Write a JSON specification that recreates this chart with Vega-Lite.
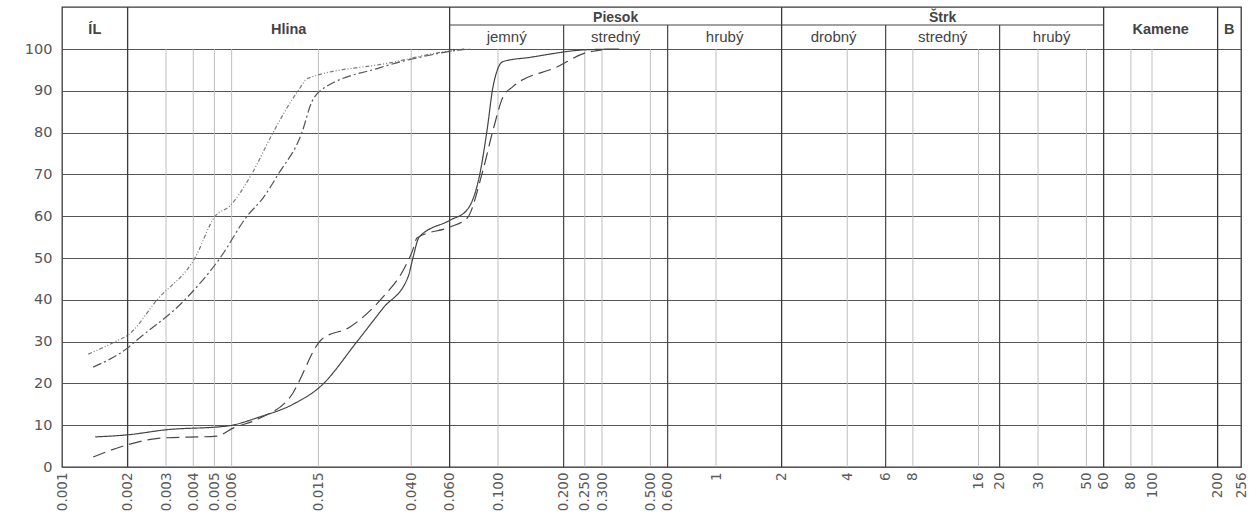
{
  "$schema": "https://vega.github.io/schema/vega-lite/v6.json",
  "width": 1179,
  "height": 460,
  "autosize": {"type": "none"},
  "padding": {"left": 62, "top": 7, "right": 16, "bottom": 50},
  "background": "white",
  "config": {"view": {"stroke": "#3a3a3a", "strokeWidth": 1.3}, "font": "Liberation Sans"},
  "datasets": {
    "curves": [
      {"s": "A", "d": 0.00132, "p": 27.0}, {"s": "A", "d": 0.00179, "p": 30.2}, {"s": "A", "d": 0.002, "p": 31.5},
      {"s": "A", "d": 0.00273, "p": 40}, {"s": "A", "d": 0.00407, "p": 50}, {"s": "A", "d": 0.00504, "p": 60},
      {"s": "A", "d": 0.0059, "p": 62.5}, {"s": "A", "d": 0.0074, "p": 70}, {"s": "A", "d": 0.00929, "p": 80},
      {"s": "A", "d": 0.0121, "p": 90}, {"s": "A", "d": 0.01343, "p": 93}, {"s": "A", "d": 0.032, "p": 96.7},
      {"s": "A", "d": 0.056, "p": 99.3}, {"s": "A", "d": 0.075, "p": 100},
      {"s": "B", "d": 0.00139, "p": 23.9}, {"s": "B", "d": 0.002, "p": 28.5}, {"s": "B", "d": 0.00221, "p": 30.4},
      {"s": "B", "d": 0.00366, "p": 40}, {"s": "B", "d": 0.00531, "p": 50}, {"s": "B", "d": 0.00706, "p": 60},
      {"s": "B", "d": 0.0084, "p": 64.5}, {"s": "B", "d": 0.0098, "p": 70}, {"s": "B", "d": 0.0126, "p": 80},
      {"s": "B", "d": 0.014, "p": 87.4}, {"s": "B", "d": 0.0153, "p": 90}, {"s": "B", "d": 0.0286, "p": 95.5},
      {"s": "B", "d": 0.0541, "p": 99}, {"s": "B", "d": 0.07, "p": 100},
      {"s": "C", "d": 0.00142, "p": 7.2}, {"s": "C", "d": 0.002, "p": 7.7}, {"s": "C", "d": 0.003, "p": 8.9},
      {"s": "C", "d": 0.00571, "p": 9.8}, {"s": "C", "d": 0.0081, "p": 12}, {"s": "C", "d": 0.01147, "p": 15},
      {"s": "C", "d": 0.0155, "p": 19.5}, {"s": "C", "d": 0.02255, "p": 30}, {"s": "C", "d": 0.0297, "p": 38},
      {"s": "C", "d": 0.0387, "p": 45.5}, {"s": "C", "d": 0.0407, "p": 50}, {"s": "C", "d": 0.0435, "p": 55},
      {"s": "C", "d": 0.06, "p": 59}, {"s": "C", "d": 0.0721, "p": 61.5}, {"s": "C", "d": 0.0827, "p": 70.3},
      {"s": "C", "d": 0.0891, "p": 80.6}, {"s": "C", "d": 0.0949, "p": 91}, {"s": "C", "d": 0.1054, "p": 97},
      {"s": "C", "d": 0.14, "p": 98}, {"s": "C", "d": 0.25, "p": 99.8}, {"s": "C", "d": 0.36, "p": 100},
      {"s": "D", "d": 0.00139, "p": 2.4}, {"s": "D", "d": 0.00199, "p": 5.3}, {"s": "D", "d": 0.00282, "p": 6.9},
      {"s": "D", "d": 0.00514, "p": 7.4}, {"s": "D", "d": 0.00609, "p": 9.3}, {"s": "D", "d": 0.0081, "p": 11.7},
      {"s": "D", "d": 0.01147, "p": 17.7}, {"s": "D", "d": 0.01197, "p": 19.5}, {"s": "D", "d": 0.0155, "p": 30.5},
      {"s": "D", "d": 0.02095, "p": 33.5}, {"s": "D", "d": 0.0297, "p": 40.7}, {"s": "D", "d": 0.0367, "p": 47},
      {"s": "D", "d": 0.0407, "p": 52}, {"s": "D", "d": 0.0425, "p": 54.8}, {"s": "D", "d": 0.06, "p": 57.4},
      {"s": "D", "d": 0.0721, "p": 59.5}, {"s": "D", "d": 0.0853, "p": 71}, {"s": "D", "d": 0.0949, "p": 80.6},
      {"s": "D", "d": 0.1054, "p": 88.5}, {"s": "D", "d": 0.117, "p": 91}, {"s": "D", "d": 0.1865, "p": 95.7},
      {"s": "D", "d": 0.25, "p": 99}, {"s": "D", "d": 0.3, "p": 99.8}
    ],
    "vlines": [
      {"d": 0.002, "kind": "class"}, {"d": 0.003, "kind": "minor"}, {"d": 0.004, "kind": "minor"},
      {"d": 0.005, "kind": "minor"}, {"d": 0.006, "kind": "minor"}, {"d": 0.015, "kind": "minor"},
      {"d": 0.04, "kind": "minor"}, {"d": 0.06, "kind": "class"}, {"d": 0.1, "kind": "minor"},
      {"d": 0.2, "kind": "sub"}, {"d": 0.25, "kind": "minor"}, {"d": 0.3, "kind": "minor"},
      {"d": 0.5, "kind": "minor"}, {"d": 0.6, "kind": "sub"}, {"d": 1, "kind": "minor"},
      {"d": 2, "kind": "class"}, {"d": 4, "kind": "minor"}, {"d": 6, "kind": "sub"},
      {"d": 8, "kind": "minor"}, {"d": 16, "kind": "minor"}, {"d": 20, "kind": "sub"},
      {"d": 30, "kind": "minor"}, {"d": 50, "kind": "minor"}, {"d": 60, "kind": "class"},
      {"d": 80, "kind": "minor"}, {"d": 100, "kind": "minor"}, {"d": 200, "kind": "class"}
    ],
    "classes": [
      {"name": "ÍL", "from": 0.001, "to": 0.002, "level": "full"},
      {"name": "Hlina", "from": 0.002, "to": 0.06, "level": "full"},
      {"name": "Piesok", "from": 0.06, "to": 2, "level": "upper"},
      {"name": "jemný", "from": 0.06, "to": 0.2, "level": "lower"},
      {"name": "stredný", "from": 0.2, "to": 0.6, "level": "lower"},
      {"name": "hrubý", "from": 0.6, "to": 2, "level": "lower"},
      {"name": "Štrk", "from": 2, "to": 60, "level": "upper"},
      {"name": "drobný", "from": 2, "to": 6, "level": "lower"},
      {"name": "stredný", "from": 6, "to": 20, "level": "lower"},
      {"name": "hrubý", "from": 20, "to": 60, "level": "lower"},
      {"name": "Kamene", "from": 60, "to": 200, "level": "full"},
      {"name": "B", "from": 200, "to": 256, "level": "full"}
    ]
  },
  "layer": [
    {
      "data": {"name": "vlines"},
      "transform": [{"filter": "datum.kind === 'minor'"}],
      "mark": {"type": "rule", "color": "#b8b8b8", "strokeWidth": 0.9},
      "encoding": {
        "x": {
          "field": "d", "type": "quantitative", "title": null,
          "scale": {"type": "log", "domain": [0.001, 256], "nice": false},
          "axis": {
            "title": null,
            "values": [0.001, 0.002, 0.003, 0.004, 0.005, 0.006, 0.015, 0.04, 0.06, 0.1, 0.2, 0.25, 0.3, 0.5, 0.6, 1, 2, 4, 6, 8, 16, 20, 30, 50, 60, 80, 100, 200, 256],
            "labelExpr": "datum.value < 1 ? format(datum.value, '.3f') : format(datum.value, 'd')",
            "labelAngle": -90,
            "labelAlign": "right",
            "labelBaseline": "middle",
            "labelOverlap": false,
            "labelFlush": false,
            "labelBound": false,
            "labelPadding": 5,
            "labelFontSize": 13.5,
            "labelColor": "#5a5a5a",
            "labelFont": "DejaVu Sans",
            "ticks": false,
            "domain": false,
            "grid": false
          }
        },
        "y": {
          "datum": 0, "type": "quantitative", "title": null,
          "scale": {"domain": [0, 110.05], "nice": false, "zero": false},
          "axis": {
            "title": null,
            "values": [0, 10, 20, 30, 40, 50, 60, 70, 80, 90, 100],
            "grid": true,
            "gridColor": "#555555",
            "gridWidth": 1,
            "gridOpacity": 1,
            "ticks": false,
            "domain": false,
            "labelPadding": 10,
            "labelFontSize": 14.5,
            "labelColor": "#555555",
            "labelFont": "DejaVu Sans",
            "labelOverlap": false
          }
        },
        "y2": {"datum": 100}
      }
    },
    {
      "data": {"name": "vlines"},
      "transform": [{"filter": "datum.kind === 'sub'"}],
      "mark": {"type": "rule", "color": "#444444", "strokeWidth": 1.2},
      "encoding": {
        "x": {"field": "d", "type": "quantitative", "title": null},
        "y": {"datum": 0, "type": "quantitative", "title": null},
        "y2": {"datum": 105.74}
      }
    },
    {
      "data": {"name": "vlines"},
      "transform": [{"filter": "datum.kind === 'class'"}],
      "mark": {"type": "rule", "color": "#3a3a3a", "strokeWidth": 1.3},
      "encoding": {
        "x": {"field": "d", "type": "quantitative", "title": null},
        "y": {"datum": 0, "type": "quantitative", "title": null},
        "y2": {"datum": 110.05}
      }
    },
    {
      "data": {"values": [{"from": 0.06, "to": 60}]},
      "mark": {"type": "rule", "color": "#444444", "strokeWidth": 1.2},
      "encoding": {
        "x": {"field": "from", "type": "quantitative", "title": null},
        "x2": {"field": "to"},
        "y": {"datum": 105.74, "type": "quantitative", "title": null}
      }
    },
    {
      "data": {"name": "classes"},
      "transform": [
        {"filter": "datum.level === 'full'"},
        {"calculate": "sqrt(datum.from * datum.to)", "as": "mid"}
      ],
      "mark": {"type": "text", "fontSize": 14.5, "fontWeight": "bold", "color": "#444444", "align": "center", "baseline": "middle"},
      "encoding": {
        "x": {"field": "mid", "type": "quantitative", "title": null},
        "y": {"datum": 104.6, "type": "quantitative", "title": null},
        "text": {"field": "name"}
      }
    },
    {
      "data": {"name": "classes"},
      "transform": [
        {"filter": "datum.level === 'upper'"},
        {"calculate": "sqrt(datum.from * datum.to)", "as": "mid"}
      ],
      "mark": {"type": "text", "fontSize": 14, "fontWeight": "bold", "color": "#444444", "align": "center", "baseline": "middle"},
      "encoding": {
        "x": {"field": "mid", "type": "quantitative", "title": null},
        "y": {"datum": 107.5, "type": "quantitative", "title": null},
        "text": {"field": "name"}
      }
    },
    {
      "data": {"name": "classes"},
      "transform": [
        {"filter": "datum.level === 'lower'"},
        {"calculate": "sqrt(datum.from * datum.to)", "as": "mid"}
      ],
      "mark": {"type": "text", "fontSize": 15, "color": "#444444", "align": "center", "baseline": "middle"},
      "encoding": {
        "x": {"field": "mid", "type": "quantitative", "title": null},
        "y": {"datum": 102.8, "type": "quantitative", "title": null},
        "text": {"field": "name"}
      }
    },
    {
      "data": {"name": "curves"},
      "mark": {"type": "line", "interpolate": "monotone", "strokeWidth": 1.2},
      "encoding": {
        "x": {"field": "d", "type": "quantitative", "title": null},
        "y": {"field": "p", "type": "quantitative", "title": null},
        "detail": {"field": "s", "type": "nominal"},
        "strokeDash": {
          "field": "s", "type": "nominal",
          "scale": {"domain": ["A", "B", "C", "D"], "range": [[4, 2, 1, 2, 1, 2], [9, 3, 2, 3], [1, 0], [13, 6]]},
          "legend": null
        },
        "color": {
          "field": "s", "type": "nominal",
          "scale": {"domain": ["A", "B", "C", "D"], "range": ["#7a7a7a", "#555555", "#444444", "#474747"]},
          "legend": null
        }
      }
    }
  ]
}
